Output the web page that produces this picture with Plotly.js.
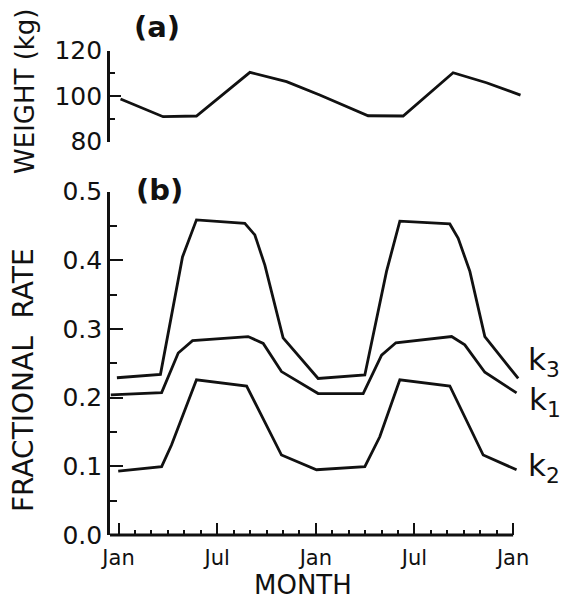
<!DOCTYPE html>
<html>
<head>
<meta charset="utf-8">
<script src="https://cdn.plot.ly/plotly-3.0.1.min.js"></script>
<style>html,body{margin:0;padding:0;background:#fff;}#chart{width:572px;height:600px;}</style>
</head>
<body>
<div id="chart"></div>
<script>
// ---- data (months from first January) ----
const weightMonth = [0.12, 2.71, 4.74, 7.99, 10.22, 12.24, 15.18, 17.31, 20.35, 22.38, 24.45];
const weightKg    = [98.8, 91.0, 91.3, 110.5, 106.4, 100.5, 91.4, 91.3, 110.3, 105.9, 100.5];

const k3Month = [-0.1, 2.55, 3.89, 4.74, 7.68, 8.29, 8.9, 10.01, 12.14, 14.98, 16.3, 17.11, 20.15, 20.66, 21.37, 22.28, 24.31];
const k3Rate  = [0.229, 0.234, 0.405, 0.459, 0.454, 0.437, 0.393, 0.287, 0.228, 0.233, 0.384, 0.457, 0.453, 0.432, 0.384, 0.289, 0.228];

const k1Month = [-0.47, 2.62, 3.63, 4.5, 7.88, 8.8, 9.91, 12.14, 14.88, 16.0, 16.87, 20.26, 21.06, 21.57, 22.28, 24.21];
const k1Rate  = [0.204, 0.2075, 0.265, 0.283, 0.289, 0.279, 0.238, 0.206, 0.206, 0.262, 0.280, 0.289, 0.277, 0.260, 0.237, 0.207];

const k2Month = [-0.02, 2.62, 3.22, 4.74, 7.79, 9.91, 12.04, 14.98, 15.89, 17.11, 20.15, 22.18, 24.21];
const k2Rate  = [0.093, 0.0995, 0.131, 0.226, 0.217, 0.1165, 0.095, 0.0995, 0.143, 0.226, 0.217, 0.1165, 0.095];

const monthTickVals = [0, 6, 12, 18, 24];
const monthTickText = ["Jan", "Jul", "Jan", "Jul", "Jan"];
const rateTickVals = [0, 0.1, 0.2, 0.3, 0.4, 0.5];
const rateTickText = ["0.0", "0.1", "0.2", "0.3", "0.4", "0.5"];
const rateMinor = [0.05, 0.15, 0.25, 0.35, 0.45];
const weightTickVals = [80, 100, 120];
const weightMinor = [90, 110];

// ---- layout helpers ----
const W = 572, H = 600, ML = 110, MR = 50, MT = 50, MB = 65;
const PW = W - ML - MR, PH = H - MT - MB;
const px = x => (x - ML) / PW;
const py = y => (H - MB - y) / PH;

const black = '#111';
const lineStyle = {color: black, width: 2.8};
const font = 'DejaVu Sans, Arial, sans-serif';

const traces = [
  {x: weightMonth, y: weightKg, xaxis: 'x', yaxis: 'y2', mode: 'lines', line: lineStyle, hoverinfo: 'skip'},
  {x: k3Month, y: k3Rate, xaxis: 'x', yaxis: 'y', mode: 'lines', line: lineStyle, hoverinfo: 'skip'},
  {x: k1Month, y: k1Rate, xaxis: 'x', yaxis: 'y', mode: 'lines', line: lineStyle, hoverinfo: 'skip'},
  {x: k2Month, y: k2Rate, xaxis: 'x', yaxis: 'y', mode: 'lines', line: lineStyle, hoverinfo: 'skip'}
];

const layout = {
  width: W, height: H,
  margin: {l: ML, r: MR, t: MT, b: MB, pad: 0},
  paper_bgcolor: '#fff', plot_bgcolor: '#fff',
  showlegend: false,
  font: {family: font, color: black},
  xaxis: {
    range: [-0.52, -0.52 + PW / 16.44],
    anchor: 'y',
    showgrid: false, zeroline: false, showline: false,
    tickmode: 'array', tickvals: monthTickVals, ticktext: monthTickText,
    ticks: 'inside', ticklen: 12, tickwidth: 2, tickcolor: black,
    minor: {tickmode: 'linear', tick0: 0, dtick: 1, ticks: 'inside', ticklen: 5, tickwidth: 2, tickcolor: black, showgrid: false},
    tickfont: {size: 21, family: font, color: black},
    ticklabelstandoff: 8,
    fixedrange: true
  },
  yaxis: {
    domain: [0, py(191.7)],
    range: [0, 0.5],
    anchor: 'x',
    showgrid: false, zeroline: false,
    showline: true, linewidth: 2.8, linecolor: black,
    tickmode: 'array', tickvals: rateTickVals, ticktext: rateTickText,
    ticks: 'inside', ticklen: 13, tickwidth: 2, tickcolor: black,
    minor: {tickmode: 'array', tickvals: rateMinor, ticks: 'inside', ticklen: 7, tickwidth: 2, tickcolor: black, showgrid: false},
    tickfont: {size: 25, family: font, color: black},
    fixedrange: true
  },
  yaxis2: {
    domain: [py(141.7), py(50.7)],
    range: [80, 120],
    anchor: 'x',
    showgrid: false, zeroline: false,
    showline: true, linewidth: 2.8, linecolor: black,
    tickmode: 'array', tickvals: weightTickVals,
    ticks: 'inside', ticklen: 11, tickwidth: 2, tickcolor: black,
    minor: {tickmode: 'array', tickvals: weightMinor, ticks: 'inside', ticklen: 5, tickwidth: 2, tickcolor: black, showgrid: false},
    tickfont: {size: 25, family: font, color: black},
    fixedrange: true
  },
  shapes: [
    {type: 'line', xref: 'x', yref: 'paper', x0: -0.52, x1: 24, y0: 0, y1: 0,
     line: {color: black, width: 2.8}}
  ],
  annotations: [
    {text: 'MONTH', xref: 'paper', yref: 'paper', x: px(302.5), y: py(585), xanchor: 'center', yanchor: 'middle',
     showarrow: false, font: {size: 26, family: font, color: black}},
    {text: 'FRACTIONAL\u00a0\u00a0RATE', xref: 'paper', yref: 'paper', x: px(23.5), y: py(380.5), textangle: -90,
     xanchor: 'center', yanchor: 'middle', showarrow: false, font: {size: 28, family: font, color: black}},
    {text: 'WEIGHT (kg)', xref: 'paper', yref: 'paper', x: px(25), y: py(91), textangle: -90,
     xanchor: 'center', yanchor: 'middle', showarrow: false, font: {size: 26, family: font, color: black}},
    {text: '<b>(a)</b>', xref: 'paper', yref: 'paper', x: px(156.7), y: py(27.5), xanchor: 'center', yanchor: 'middle',
     showarrow: false, font: {size: 29, family: font, color: black}},
    {text: '<b>(b)</b>', xref: 'paper', yref: 'paper', x: px(159), y: py(190), xanchor: 'center', yanchor: 'middle',
     showarrow: false, font: {size: 29, family: font, color: black}},
    {text: 'k<sub>3</sub>', xref: 'paper', yref: 'paper', x: px(526), y: py(362), xanchor: 'left', yanchor: 'middle',
     showarrow: false, font: {size: 31, family: font, color: black}},
    {text: 'k<sub>1</sub>', xref: 'paper', yref: 'paper', x: px(527), y: py(401), xanchor: 'left', yanchor: 'middle',
     showarrow: false, font: {size: 31, family: font, color: black}},
    {text: 'k<sub>2</sub>', xref: 'paper', yref: 'paper', x: px(526), y: py(467), xanchor: 'left', yanchor: 'middle',
     showarrow: false, font: {size: 31, family: font, color: black}}
  ]
};

Plotly.newPlot('chart', traces, layout, {displayModeBar: false, staticPlot: true});
</script>
</body>
</html>
